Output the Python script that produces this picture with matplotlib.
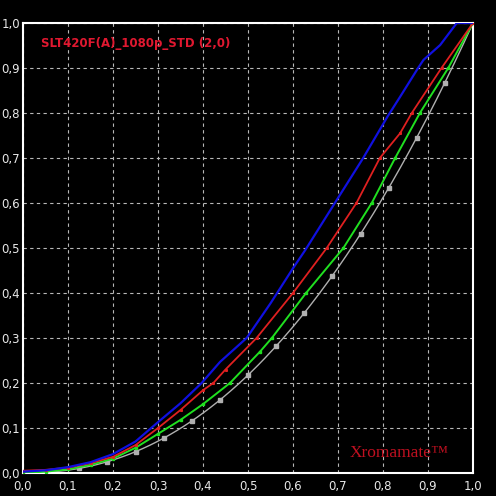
import matplotlib
matplotlib.use("Agg")
import matplotlib.pyplot as plt
import numpy as np

blue_x = [0.0, 0.05, 0.1, 0.15, 0.2, 0.25, 0.3, 0.35, 0.397, 0.438, 0.497, 0.55, 0.6, 0.627,
          0.693, 0.756, 0.81, 0.838, 0.878, 0.89, 0.927, 0.964, 1.0]
blue_y = [0.003, 0.006, 0.013, 0.024, 0.042, 0.07, 0.113, 0.155, 0.2, 0.247, 0.3, 0.377,
          0.455, 0.495, 0.6, 0.7, 0.792, 0.836, 0.9, 0.918, 0.951, 1.0, 1.0]

red_x = [0.0, 0.05, 0.1, 0.15, 0.2, 0.25, 0.3, 0.35, 0.4, 0.423, 0.45, 0.519, 0.6, 0.675,
         0.741, 0.793, 0.838, 0.864, 0.93, 1.0]
red_y = [0.005, 0.007, 0.012, 0.022, 0.036, 0.062, 0.1, 0.14, 0.184, 0.2, 0.23, 0.3, 0.4,
         0.5, 0.6, 0.7, 0.755, 0.8, 0.9, 1.0]

green_x = [0.0, 0.05, 0.1, 0.15, 0.2, 0.25, 0.3, 0.35, 0.4, 0.46, 0.527, 0.553, 0.629, 0.712,
           0.775, 0.827, 0.882, 0.945, 1.0]
green_y = [0.0, 0.003, 0.008, 0.018, 0.032, 0.056, 0.087, 0.118, 0.153, 0.2, 0.27, 0.3, 0.4,
           0.5, 0.6, 0.7, 0.8, 0.9, 1.0]

# reference gamma 2.2, markers every 1/16
ref_gamma = 2.2
ref_x = np.linspace(0, 1, 17)

ticks = [0.0, 0.1, 0.2, 0.3, 0.4, 0.5, 0.6, 0.7, 0.8, 0.9, 1.0]
tick_labels = ["0,0", "0,1", "0,2", "0,3", "0,4", "0,5", "0,6", "0,7", "0,8", "0,9", "1,0"]

title = "SLT420F(A)_1080p_STD (2,0)"
brand = "Xromamate\u2122"

fig = plt.figure(figsize=(4.96, 4.96), dpi=100, facecolor="black")
ax = fig.add_axes([23 / 496, 23 / 496, 450 / 496, 450 / 496], facecolor="black")

xx = np.linspace(0, 1, 200)
ax.plot(xx, xx ** ref_gamma, color="#b0b0b0", lw=1.0, zorder=2)
ax.plot(ref_x, ref_x ** ref_gamma, ls="none", marker="s", ms=2.5, color="#b0b0b0", zorder=2)
ax.plot(green_x, green_y, color="#20e020", lw=1.4, marker="s", ms=1.5, zorder=3)
ax.plot(red_x, red_y, color="#e02020", lw=1.3, marker="s", ms=1.2, zorder=4)
ax.plot(blue_x, blue_y, color="#1010e0", lw=1.6, zorder=5)

ax.set_xlim(0, 1)
ax.set_ylim(0, 1)
ax.set_xticks(ticks)
ax.set_xticklabels(tick_labels)
ax.set_yticks(ticks)
ax.set_yticklabels(tick_labels)
ax.tick_params(length=0, colors="#e8e8e8", labelsize=8.5, pad=2)
ax.tick_params(axis="x", pad=5)
ax.grid(True, color="#b8b8b8", ls=(0, (3, 3)), lw=0.8)
for s in ax.spines.values():
    s.set_color("white")
    s.set_linewidth(1.5)

ax.text(0.04, 0.955, title, transform=ax.transAxes, color="#e01830", fontsize=8.5,
        fontweight="bold", va="center", ha="left")
ax.text(0.725, 0.045, brand, transform=ax.transAxes, color="#c01020", fontsize=12.5,
        family="Liberation Serif", va="center", ha="left")

fig.savefig("out.png", dpi=100, facecolor="black")
